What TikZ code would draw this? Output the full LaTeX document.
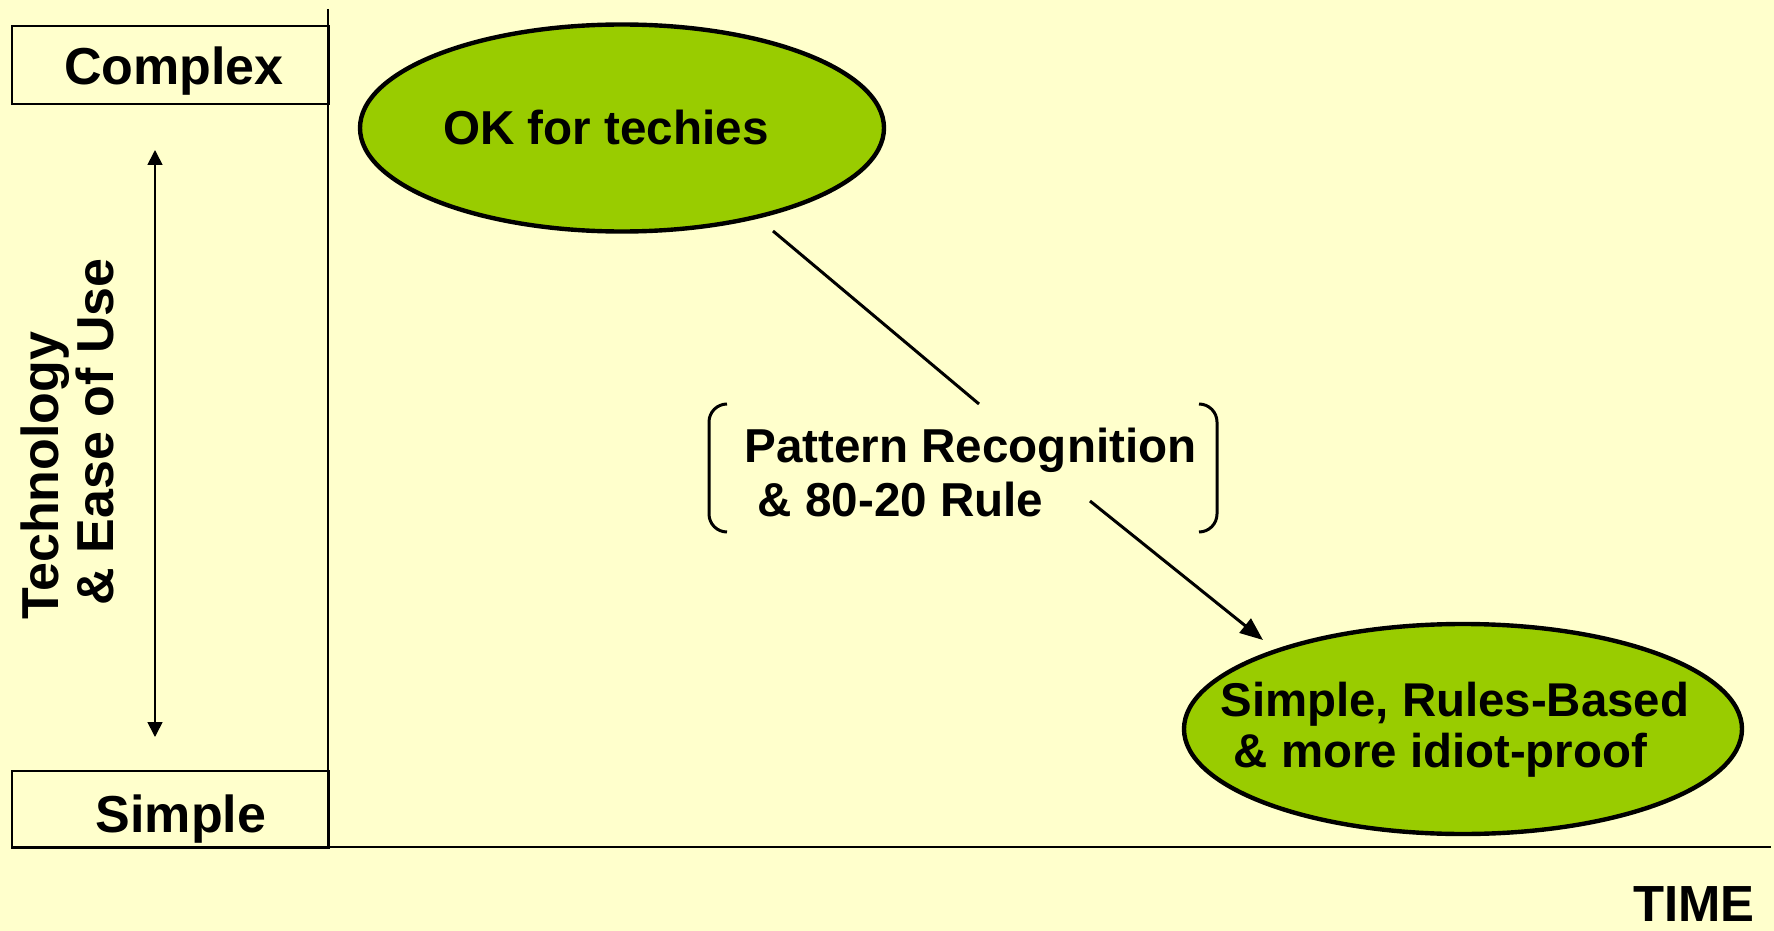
\documentclass[tikz,border=0pt]{standalone}
\usepackage{fontspec}
\setmainfont{Liberation Sans}
\usetikzlibrary{shapes.geometric,arrows.meta}
\definecolor{bgyellow}{HTML}{FFFFCC}
\definecolor{leaf}{HTML}{99CC00}
\begin{document}
\begin{tikzpicture}[x=0.5pt,y=-0.5pt,
  axisbox/.style={draw, line width=0.8pt, inner sep=0},
  axisline/.style={line width=0.8pt},
  axislbl/.style={font=\bfseries\fontsize{26}{27.5}\selectfont, inner sep=0},
  blob/.style={ellipse, draw, fill=leaf, line width=2.2pt, inner sep=0},
  oklbl/.style={font=\bfseries\fontsize{23.8}{27}\selectfont, inner sep=0},
  patlbl/.style={font=\bfseries\fontsize{23.8}{27}\selectfont, inner sep=0},
  rulelbl/.style={font=\bfseries\fontsize{23.7}{25.5}\selectfont, inner sep=0},
  bracketline/.style={line width=1.5pt, rounded corners=9pt},
  conn/.style={line width=1.5pt},
  dblarrow/.style={line width=0.85pt, {Triangle[length=7.5pt,width=7.5pt]}-{Triangle[length=7.5pt,width=7.5pt]}}
]
\useasboundingbox (0,0) rectangle (1774,931);
\fill[bgyellow] (0,0) rectangle (1774,931);

% axis boxes
\node[axisbox, minimum width=158.5pt, minimum height=39pt, anchor=north west] (cbox) at (11,25) {};
\node[axislbl, anchor=base] (ctext) at (174,85) {Complex};
\node[axisbox, minimum width=158.5pt, minimum height=38.5pt, anchor=north west] (sbox) at (11,770) {};
\node[axislbl, anchor=base] (stext) at (181,832) {Simple};

% axes
\coordinate (ytop) at (328,9);
\coordinate (orig) at (328,847);
\coordinate (xleft) at (11,847);
\coordinate (xright) at (1771,847);
\draw[axisline] (ytop) -- (orig);
\draw[axisline] (xleft) -- (xright);

% double arrow
\coordinate (dtop) at (155,150);
\coordinate (dbot) at (155,737);
\draw[dblarrow] (dbot) -- (dtop);

% y label
\node[axislbl, rotate=90, anchor=west, align=left] (ylab) at (67.5,620) {Technology\\\hspace{0.28em}\& Ease of Use};

% ellipses
\node[blob, minimum width=262pt, minimum height=103.5pt] (e1) at (622,128) {};
\node[oklbl, anchor=base west] (oktext) at (443,145) {OK for techies};
\node[blob, minimum width=279pt, minimum height=105pt] (e2) at (1463,729) {};
\node[rulelbl, anchor=west, align=left, text depth=0pt] (e2text) at (1220,724.5) {Simple, Rules-Based\\\hspace{0.28em}\& more idiot-proof};

% bracket and label
\draw[bracketline] (727,404) -- (709,404) -- (709,532) -- (727,532);
\draw[bracketline] (1199,404) -- (1217,404) -- (1217,532) -- (1199,532);
\node[patlbl, anchor=west, align=left] (pat) at (744,472) {Pattern Recognition\\\hspace{0.28em}\& 80-20 Rule};

% connectors
\coordinate (l1a) at (773,231);
\coordinate (l1b) at (979,404);
\draw[conn] (l1a) -- (l1b);
\coordinate (l2a) at (1090,501);
\coordinate (l2b) at (1263,640);
\draw[conn, -{Triangle[length=11.5pt,width=9pt]}] (l2a) -- (l2b);

% time
\node[axislbl, font=\bfseries\fontsize{25.4}{28}\selectfont, anchor=base west] (time) at (1633,921) {TIME};
\end{tikzpicture}
\end{document}
